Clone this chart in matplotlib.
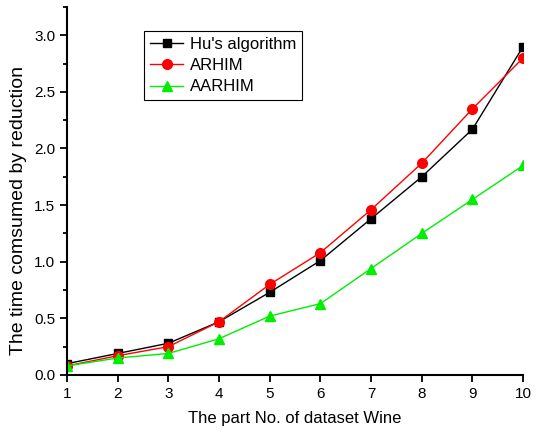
import matplotlib
matplotlib.use("Agg")
import matplotlib.pyplot as plt
from matplotlib.ticker import MultipleLocator

plt.rcParams['font.family'] = ['Liberation Sans', 'DejaVu Sans']

parts = [1, 2, 3, 4, 5, 6, 7, 8, 9, 10]
hu = [0.10, 0.19, 0.28, 0.47, 0.73, 1.01, 1.38, 1.75, 2.17, 2.90]
arhim = [0.08, 0.17, 0.25, 0.47, 0.80, 1.08, 1.46, 1.87, 2.35, 2.80]
aarhim = [0.08, 0.15, 0.19, 0.32, 0.52, 0.63, 0.94, 1.25, 1.55, 1.85]

fig = plt.figure(figsize=(5.36, 4.32), dpi=100)
ax = fig.add_axes([0.125, 0.132, 0.851, 0.852])

ax.plot(parts, hu, color='black', lw=1, marker='s', ms=6, label="Hu's algorithm")
ax.plot(parts, arhim, color='red', lw=1, marker='o', ms=7, label='ARHIM')
ax.plot(parts, aarhim, color='#00ee00', lw=1, marker='^', ms=7, label='AARHIM')

ax.set_xlim(1, 10)
ax.set_ylim(0, 3.25)
ax.set_xticks(parts)
ax.yaxis.set_major_locator(MultipleLocator(0.5))
ax.yaxis.set_minor_locator(MultipleLocator(0.25))
ax.yaxis.set_major_formatter(matplotlib.ticker.FormatStrFormatter('%.1f'))
ax.tick_params(which='major', direction='out', length=5, width=1.3, labelsize=11)
ax.tick_params(which='minor', direction='out', length=3, width=1.3)

for s in ['top', 'right']:
    ax.spines[s].set_visible(False)
for s in ['left', 'bottom']:
    ax.spines[s].set_linewidth(1.5)

ax.set_xlabel('The part No. of dataset Wine', fontsize=12)
ax.set_ylabel('The time comsumed by reduction', fontsize=14)
ax.xaxis.set_label_coords(0.5, -0.098)
ax.yaxis.set_label_coords(-0.088, 0.446)

leg = ax.legend(loc='upper left', bbox_to_anchor=(0.169, 0.935), fontsize=12,
                fancybox=False, edgecolor='black', framealpha=1, borderaxespad=0,
                handlelength=2.0, borderpad=0.35, labelspacing=0.38, handletextpad=0.4)
leg.get_frame().set_linewidth(0.8)

fig.savefig('out.png', dpi=100)
